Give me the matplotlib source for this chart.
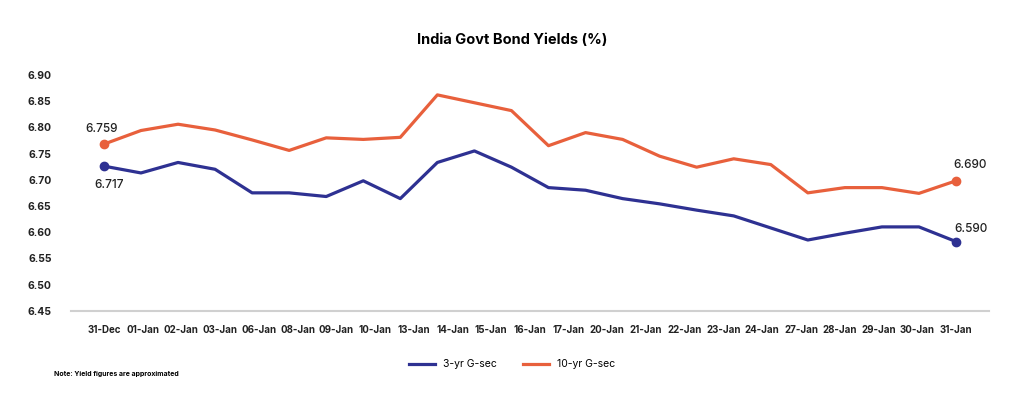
import numpy as np
import matplotlib.pyplot as plt

plt.rcParams['font.family'] = ['Inter', 'DejaVu Sans']

dates = ["31-Dec", "01-Jan", "02-Jan", "03-Jan", "06-Jan", "08-Jan", "09-Jan", "10-Jan",
         "13-Jan", "14-Jan", "15-Jan", "16-Jan", "17-Jan", "20-Jan", "21-Jan", "22-Jan",
         "23-Jan", "24-Jan", "27-Jan", "28-Jan", "29-Jan", "30-Jan", "31-Jan"]

yield_3yr = [6.726, 6.713, 6.733, 6.720, 6.675, 6.675, 6.668, 6.698, 6.664, 6.733,
             6.755, 6.724, 6.685, 6.680, 6.664, 6.654, 6.642, 6.631, 6.608, 6.585,
             6.598, 6.610, 6.610, 6.582]
yield_10yr = [6.768, 6.794, 6.806, 6.795, 6.776, 6.756, 6.780, 6.777, 6.781, 6.862,
              6.847, 6.832, 6.765, 6.790, 6.777, 6.745, 6.724, 6.740, 6.729, 6.675,
              6.685, 6.685, 6.674, 6.698]

labels_3yr = ("6.717", "6.590")
labels_10yr = ("6.759", "6.690")

blue = "#2e3192"
orange = "#e8603c"

fig = plt.figure(figsize=(10.24, 3.98), dpi=100)
ax = fig.add_axes([0.0693, 0.2193, 0.8965, 0.5923])

x = np.arange(len(yield_3yr))
ax.plot(x, yield_3yr, color=blue, lw=2.3, label="3-yr G-sec", solid_joinstyle="round")
ax.plot(x, yield_10yr, color=orange, lw=2.3, label="10-yr G-sec", solid_joinstyle="round")
ax.plot([x[0], x[-1]], [yield_3yr[0], yield_3yr[-1]], "o", color=blue, ms=6)
ax.plot([x[0], x[-1]], [yield_10yr[0], yield_10yr[-1]], "o", color=orange, ms=6)

txt = dict(fontsize=8.5, color="#222222", fontweight="medium")
ax.annotate(labels_10yr[0], (x[0], yield_10yr[0]), xytext=(-2, 9), textcoords="offset points", ha="center", **txt)
ax.annotate(labels_3yr[0], (x[0], yield_3yr[0]), xytext=(4, -16), textcoords="offset points", ha="center", **txt)
ax.annotate(labels_10yr[1], (x[-1], yield_10yr[-1]), xytext=(10, 9), textcoords="offset points", ha="center", **txt)
ax.annotate(labels_3yr[1], (x[-1], yield_3yr[-1]), xytext=(11, 7), textcoords="offset points", ha="center", **txt)

ax.set_xlim(-0.89, len(yield_3yr) - 1 + 0.89)
ax.set_ylim(6.45, 6.90)
ax.set_yticks(np.arange(6.45, 6.901, 0.05))
ax.set_yticklabels([f"{v:.2f}" for v in np.arange(6.45, 6.901, 0.05)], fontsize=7.5, fontweight="bold")
ax.set_xticks(np.linspace(0, len(yield_3yr) - 1, len(dates)))
ax.set_xticklabels(dates, fontsize=7, fontweight="bold")
ax.tick_params(length=0, pad=10, colors="#222222")
ax.tick_params(axis="y", pad=14)

for s in ["top", "right", "left"]:
    ax.spines[s].set_visible(False)
ax.spines["bottom"].set_color("#d0d0d0")
ax.spines["bottom"].set_linewidth(1.5)

fig.text(0.5, 0.9, "India Govt Bond Yields (%)", ha="center", va="center", fontsize=10.5, fontweight="bold")
fig.legend(loc="center", bbox_to_anchor=(0.5, 0.085), ncol=2, frameon=False, fontsize=7.5,
           handlelength=2.5, columnspacing=2.5)
fig.text(0.053, 0.06, "Note: Yield figures are approximated", fontsize=5, fontweight="bold", va="center")

fig.savefig("out.png", dpi=100)
